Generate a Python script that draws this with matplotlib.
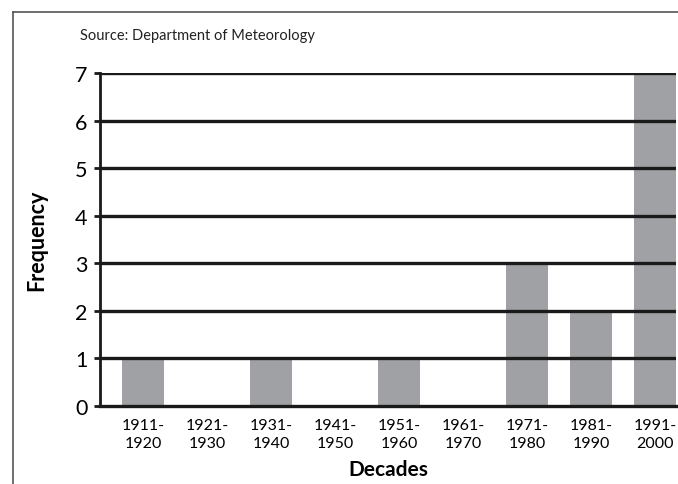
import matplotlib.pyplot as plt
from matplotlib.lines import Line2D

plt.rcParams['font.family'] = ['Lato', 'DejaVu Sans']

decades = ["1911-\n1920", "1921-\n1930", "1931-\n1940", "1941-\n1950", "1951-\n1960",
           "1961-\n1970", "1971-\n1980", "1981-\n1990", "1991-\n2000"]
frequency = [1, 0, 1, 0, 1, 0, 3, 2, 7]
yticks = [0, 1, 2, 3, 4, 5, 6, 7]

W, H = 678, 485
fig = plt.figure(figsize=(W / 100, H / 100), dpi=100)
ax = fig.add_axes([100 / W, 1 - 407 / H, 576 / W, 333 / H])

x = range(len(decades))
ax.bar(x, frequency, width=0.66, color="#a0a1a4", zorder=1)
for v in yticks[1:]:
    ax.axhline(v, color="#1a1a1a", lw=2.4, zorder=2)

ax.set_xlim(-0.67, 8.33)
ax.set_ylim(0, 7)
ax.set_yticks(yticks)
ax.set_xticks(list(x))
ax.set_xticklabels(decades, fontsize=11.5, linespacing=1.35)
ax.tick_params(axis="x", length=0, pad=9)
ax.tick_params(axis="y", length=4, width=2, labelsize=15.5, pad=5, color="#1a1a1a")

for s in ["top", "right"]:
    ax.spines[s].set_visible(False)
ax.spines["left"].set_linewidth(2)
ax.spines["bottom"].set_linewidth(2.4)
ax.spines["left"].set_color("#1a1a1a")
ax.spines["bottom"].set_color("#1a1a1a")

ax.set_xlabel("Decades", fontsize=15, fontweight="bold", labelpad=6)
ax.set_ylabel("Frequency", fontsize=15.5, fontweight="bold", labelpad=20)

fig.text(80 / W, 1 - 36 / H, "Source: Department of Meteorology", fontsize=10.5,
         ha="left", va="center", color="#222222")

# outer frame (top and left only)
fig.add_artist(Line2D([13 / W, 1], [1 - 13 / H, 1 - 13 / H], color="#555555", lw=1.2,
                      transform=fig.transFigure))
fig.add_artist(Line2D([13 / W, 13 / W], [0, 1 - 13 / H], color="#555555", lw=1.2,
                      transform=fig.transFigure))

fig.savefig("out.png", dpi=100)
